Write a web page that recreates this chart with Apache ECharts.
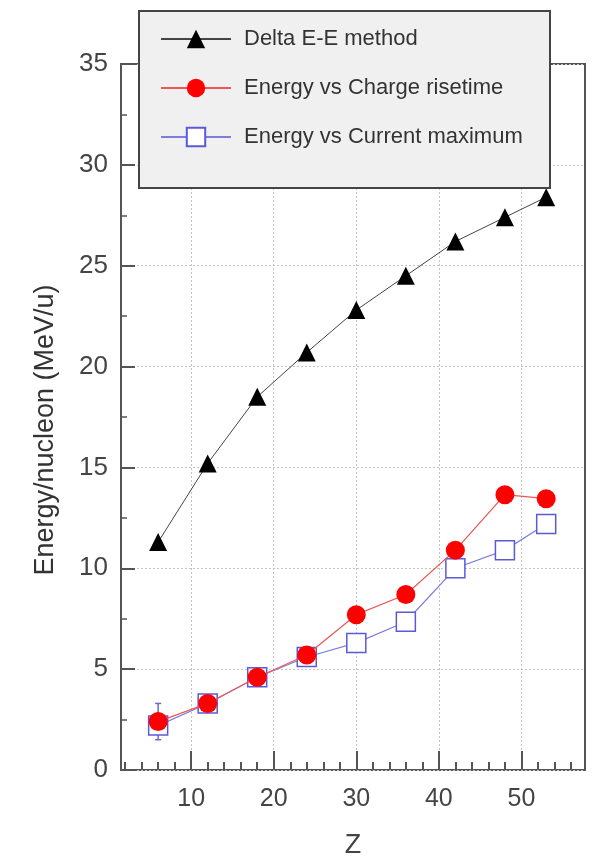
<!DOCTYPE html>
<html><head><meta charset="utf-8">
<script src="https://cdn.jsdelivr.net/npm/echarts@6/dist/echarts.min.js"></script>
<style>html,body{margin:0;padding:0;background:#fff}#c{width:596px;height:857px}</style>
</head><body><div id="c"></div>
<script>
var zValues = [6, 12, 18, 24, 30, 36, 42, 48, 53];
var deltaEE = [11.3, 15.2, 18.5, 20.7, 22.8, 24.5, 26.2, 27.4, 28.4];
var chargeRise = [2.4, 3.3, 4.6, 5.7, 7.7, 8.7, 10.9, 13.65, 13.45];
var currentMax = [2.2, 3.3, 4.6, 5.6, 6.3, 7.35, 10.0, 10.9, 12.2];
var errorBars = [[6, 1.5, 3.3]];
var xMajorTicks = [10, 20, 30, 40, 50];
var xMinorTicks = [2,4,6,8,12,14,16,18,22,24,26,28,32,34,36,38,42,44,46,48,52,54,56];
var seriesNames = ['Delta E-E method', 'Energy vs Charge risetime', 'Energy vs Current maximum'];
var yTitle = 'Energy/nucleon (MeV/u)';
var xTitle = 'Z';

function pairs(xs, ys){ return xs.map(function(x,i){ return [x, ys[i]]; }); }

var chart = echarts.init(document.getElementById('c'), null, {renderer:'canvas'});
var axisColor = '#555';
var font = 'Liberation Sans, Arial, sans-serif';
chart.setOption({
  animation: false,
  grid: {left:121, right:11, top:64, bottom:87, show:true, borderColor:axisColor, borderWidth:2,
    backgroundColor:'transparent', outerBoundsMode:'none', containLabel:false},
  legend: {
    left:155, top:23, orient:'vertical', itemWidth:70, itemHeight:23, itemGap:27,
    data: seriesNames, z:10,
    textStyle:{fontFamily:font, fontSize:22, color:'#333', padding:[0,0,0,8]}
  },
  graphic: [
    {type:'rect', left:138, top:10, z:5, shape:{width:411, height:177},
      style:{fill:'#f0f0f0', stroke:'#444', lineWidth:2}},
    {type:'text', x:46, y:430, rotation:Math.PI/2, z:5,
      style:{text:yTitle, font:'27px Liberation Sans, Arial, sans-serif', fill:'#333', align:'center', verticalAlign:'middle'}}
  ],
  xAxis: [{
    type:'value', min:1.5, max:57.7, position:'bottom',
    name:xTitle, nameLocation:'middle', nameGap:62,
    nameTextStyle:{fontFamily:font, fontSize:27, color:'#444'},
    axisLine:{show:false},
    axisTick:{show:true, inside:true, length:19, customValues:xMajorTicks, lineStyle:{color:axisColor, width:2}},
    axisLabel:{customValues:xMajorTicks, fontFamily:font, fontSize:25, color:'#444', margin:17},
    splitLine:{show:true, lineStyle:{color:'#c4c4c4', type:[2,2], width:1}}
  },{
    type:'value', min:1.5, max:57.7, position:'bottom',
    axisLine:{show:false},
    axisTick:{show:true, inside:true, length:8, customValues:xMinorTicks, lineStyle:{color:axisColor, width:2}},
    axisLabel:{show:false}, splitLine:{show:false}
  }],
  yAxis: {
    type:'value', min:0, max:35, interval:5,
    axisLine:{show:false},
    axisTick:{show:true, inside:true, length:14, lineStyle:{color:axisColor, width:2}},
    minorTick:{show:true, splitNumber:2, length:6, lineStyle:{color:axisColor, width:1.5}},
    axisLabel:{fontFamily:font, fontSize:26, color:'#444', margin:13},
    splitLine:{show:true, lineStyle:{color:'#c4c4c4', type:[2,2], width:1}}
  },
  series: [
    {name:seriesNames[0], type:'line', data:pairs(zValues, deltaEE), symbol:'triangle', symbolSize:18,
      lineStyle:{color:'#444', width:1}, itemStyle:{color:'#000'}, z:3},
    {name:seriesNames[2], type:'line', data:pairs(zValues, currentMax), symbol:'rect', symbolSize:19,
      lineStyle:{color:'#7d7de0', width:1.2}, itemStyle:{color:'#fff', borderColor:'#5a5ad8', borderWidth:1.5}, z:3},
    {name:seriesNames[1], type:'line', data:pairs(zValues, chargeRise), symbol:'circle', symbolSize:19,
      lineStyle:{color:'#ee5555', width:1.2}, itemStyle:{color:'#ff0000'}, z:4},
    {type:'custom', z:2, data:errorBars, renderItem:function(params, api){
      var top = api.coord([api.value(0), api.value(2)]);
      var bot = api.coord([api.value(0), api.value(1)]);
      var st = {stroke:'#6a6ad8', lineWidth:1.5};
      return {type:'group', children:[
        {type:'line', shape:{x1:top[0], y1:top[1], x2:bot[0], y2:bot[1]}, style:st},
        {type:'line', shape:{x1:top[0]-3, y1:top[1], x2:top[0]+3, y2:top[1]}, style:st},
        {type:'line', shape:{x1:bot[0]-3, y1:bot[1], x2:bot[0]+3, y2:bot[1]}, style:st}
      ]};
    }}
  ]
});
</script></body></html>
